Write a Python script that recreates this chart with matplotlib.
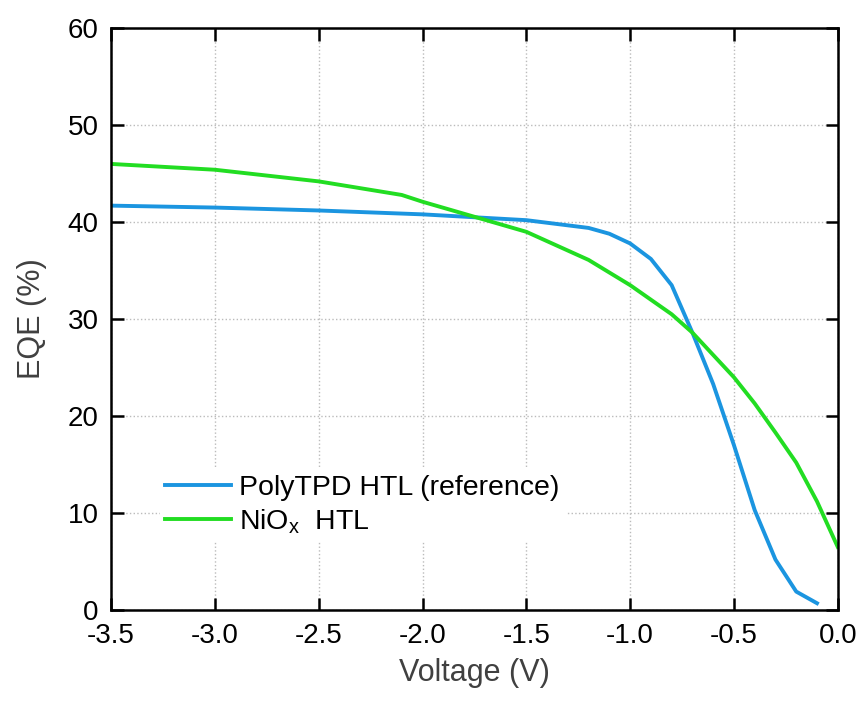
import matplotlib.pyplot as plt

plt.rcParams['font.family'] = ['Liberation Sans', 'DejaVu Sans']

# PolyTPD HTL (reference)
volt_ref = [-3.5, -3.0, -2.5, -2.0, -1.5, -1.2, -1.1, -1.0, -0.9, -0.8,
            -0.7, -0.6, -0.5, -0.4, -0.3, -0.2, -0.1]
eqe_ref = [41.7, 41.5, 41.2, 40.8, 40.2, 39.4, 38.8, 37.8, 36.2, 33.5,
           28.6, 23.3, 17.0, 10.3, 5.2, 1.9, 0.7]

# NiOx HTL
volt_nio = [-3.5, -3.0, -2.5, -2.1, -2.0, -1.5, -1.2, -1.0, -0.8, -0.7,
            -0.6, -0.5, -0.4, -0.3, -0.2, -0.1, 0.0]
eqe_nio = [46.0, 45.4, 44.2, 42.8, 42.1, 39.0, 36.1, 33.5, 30.5, 28.6,
           26.3, 24.0, 21.3, 18.3, 15.2, 11.2, 6.5]

xticks = [-3.5, -3.0, -2.5, -2.0, -1.5, -1.0, -0.5, 0.0]
yticks = [0, 10, 20, 30, 40, 50, 60]

fig = plt.figure(figsize=(8.61, 7.04), dpi=100)
ax = fig.add_axes([0.129, 0.1335, 0.844, 0.8265])

ax.plot(volt_ref, eqe_ref, color='#1b95e0', lw=2.8, label='PolyTPD HTL (reference)')
ax.plot(volt_nio, eqe_nio, color='#22dd22', lw=2.8, label='NiO$_\\mathregular{x}$  HTL')

ax.set_xlim(-3.5, 0.0)
ax.set_ylim(0, 60)
ax.set_xticks(xticks)
ax.set_xticklabels(['%.1f' % v for v in xticks])
ax.set_yticks(yticks)
ax.grid(True, linestyle=':', color='#bbbbbb', linewidth=1.0)

for s in ax.spines.values():
    s.set_linewidth(1.8)
ax.tick_params(direction='in', length=9, width=1.8, labelsize=20,
               top=True, right=True, pad=9)

ax.set_xlabel('Voltage (V)', fontsize=22, color='#404040', labelpad=7)
ax.set_ylabel('EQE (%)', fontsize=22, color='#404040', labelpad=15)

leg = ax.legend(loc='lower left', bbox_to_anchor=(0.067, 0.118), borderaxespad=0,
                fontsize=20.5, frameon=True, framealpha=1, edgecolor='none',
                fancybox=False, handlelength=2.3, handletextpad=0.3,
                labelspacing=0.2, borderpad=0.2)

fig.savefig('out.png', dpi=100)
